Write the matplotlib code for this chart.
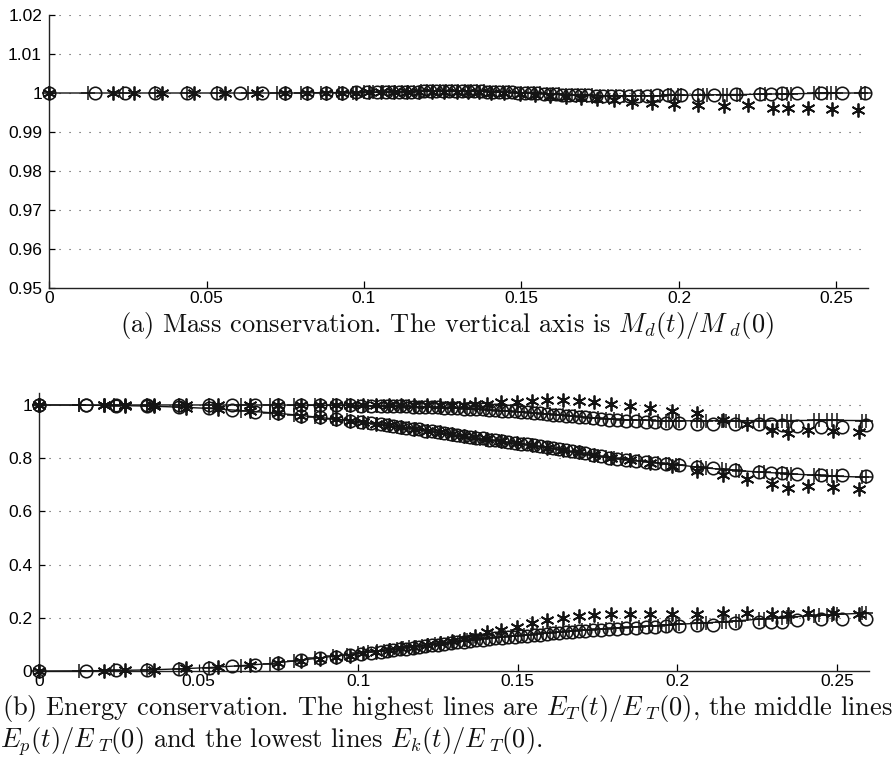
import matplotlib
matplotlib.use("Agg")
import matplotlib.pyplot as plt

plt.rcParams["mathtext.fontset"] = "cm"
plt.rcParams["axes.formatter.use_mathtext"] = False

# ---- series 1: '+' markers joined by a solid line ----
t_plus = [0.0, 0.0124, 0.0235, 0.0337, 0.0438, 0.0533, 0.0632, 0.0724, 0.0800, 0.0865,
          0.0920, 0.0965, 0.1000, 0.1030, 0.1060, 0.1080, 0.1100, 0.1120, 0.1140, 0.1160,
          0.1180, 0.1200, 0.1220, 0.1240, 0.1260, 0.1280, 0.1300, 0.1320, 0.1340, 0.1360,
          0.1380, 0.1400, 0.1420, 0.1440, 0.1460, 0.1480, 0.1500, 0.1520, 0.1540, 0.1560,
          0.1580, 0.1600, 0.1620, 0.1640, 0.1660, 0.1680, 0.1700, 0.1725, 0.1750, 0.1775,
          0.1800, 0.1825, 0.1850, 0.1880, 0.1910, 0.1940, 0.1965, 0.1974, 0.1996, 0.2006,
          0.2060, 0.2075, 0.2090, 0.2140, 0.2153, 0.2184, 0.2193, 0.2256, 0.2272, 0.2328,
          0.2343, 0.2356, 0.2428, 0.2444, 0.2469, 0.2484, 0.2500, 0.2578, 0.2590]
mass_plus = [1.0, 1.0, 1.0, 1.0, 1.0, 1.0, 1.0, 1.0, 1.0, 1.0001,
             1.0001, 1.0001, 1.0002, 1.0002, 1.0002, 1.0003, 1.0003, 1.0003, 1.0003, 1.0003,
             1.0004, 1.0004, 1.0004, 1.0004, 1.0004, 1.0004, 1.0004, 1.0004, 1.0004, 1.0004,
             1.0004, 1.0003, 1.0003, 1.0002, 1.0002, 1.0001, 1.0001, 1.0000, 0.9999, 0.9999,
             0.9998, 0.9997, 0.9997, 0.9996, 0.9995, 0.9995, 0.9994, 0.9994, 0.9993, 0.9993,
             0.9993, 0.9993, 0.9993, 0.9993, 0.9993, 0.9993, 0.9994, 0.9994, 0.9994, 0.9994,
             0.9995, 0.9995, 0.9995, 0.9996, 0.9996, 0.9996, 0.9996, 0.9997, 0.9997, 0.9998,
             0.9998, 0.9998, 0.9999, 0.9999, 0.9999, 0.9999, 1.0, 1.0, 1.0]
et_plus = [1.0, 1.0, 1.0, 1.0, 1.0, 1.0, 1.0, 1.0, 0.9995, 0.999,
           0.9988, 0.9985, 0.998, 0.9975, 0.997, 0.9965, 0.996, 0.9955, 0.995, 0.9945,
           0.994, 0.993, 0.992, 0.991, 0.990, 0.989, 0.988, 0.987, 0.986, 0.985,
           0.9835, 0.982, 0.9805, 0.979, 0.9775, 0.976, 0.9745, 0.973, 0.971, 0.969,
           0.967, 0.965, 0.963, 0.961, 0.959, 0.957, 0.955, 0.9525, 0.950, 0.948,
           0.946, 0.9445, 0.943, 0.9425, 0.942, 0.9415, 0.941, 0.941, 0.9405, 0.9405,
           0.9405, 0.9405, 0.9405, 0.941, 0.941, 0.941, 0.941, 0.9415, 0.9415, 0.9415,
           0.9415, 0.9415, 0.942, 0.942, 0.942, 0.942, 0.942, 0.9415, 0.9415]
ep_plus = [1.0, 0.9995, 0.998, 0.996, 0.992, 0.987, 0.979, 0.971, 0.963, 0.955,
           0.948, 0.942, 0.937, 0.932, 0.927, 0.924, 0.921, 0.918, 0.915, 0.912,
           0.908, 0.905, 0.901, 0.898, 0.894, 0.891, 0.887, 0.884, 0.880, 0.877,
           0.873, 0.870, 0.867, 0.864, 0.861, 0.858, 0.855, 0.852, 0.848, 0.845,
           0.841, 0.838, 0.834, 0.830, 0.826, 0.822, 0.818, 0.813, 0.808, 0.803,
           0.800, 0.796, 0.793, 0.790, 0.786, 0.782, 0.779, 0.778, 0.775, 0.774,
           0.767, 0.765, 0.763, 0.758, 0.757, 0.754, 0.753, 0.748, 0.747, 0.743,
           0.742, 0.741, 0.736, 0.735, 0.734, 0.733, 0.732, 0.729, 0.728]
ek_plus = [0.0, 0.0005, 0.002, 0.004, 0.008, 0.013, 0.020, 0.028, 0.038, 0.047,
           0.055, 0.061, 0.066, 0.070, 0.074, 0.077, 0.080, 0.083, 0.086, 0.089,
           0.092, 0.095, 0.098, 0.101, 0.104, 0.107, 0.110, 0.112, 0.115, 0.118,
           0.120, 0.123, 0.125, 0.127, 0.129, 0.131, 0.133, 0.135, 0.137, 0.139,
           0.141, 0.143, 0.145, 0.147, 0.149, 0.151, 0.153, 0.155, 0.157, 0.159,
           0.161, 0.163, 0.165, 0.167, 0.169, 0.171, 0.173, 0.173, 0.175, 0.176,
           0.179, 0.180, 0.181, 0.185, 0.186, 0.188, 0.189, 0.195, 0.196, 0.201,
           0.202, 0.203, 0.208, 0.209, 0.211, 0.212, 0.213, 0.217, 0.218]

# ---- series 2: 'o' markers ----
t_circ = [0.0, 0.0146, 0.0241, 0.0337, 0.0438, 0.0533, 0.0606, 0.0676, 0.0749, 0.0820,
          0.0880, 0.0930, 0.0975, 0.1010, 0.1040, 0.1070, 0.1090, 0.1110, 0.1130, 0.1150,
          0.1170, 0.1190, 0.1210, 0.1230, 0.1250, 0.1270, 0.1290, 0.1310, 0.1330, 0.1350,
          0.1370, 0.1390, 0.1410, 0.1430, 0.1450, 0.1470, 0.1490, 0.1510, 0.1530, 0.1550,
          0.1570, 0.1590, 0.1610, 0.1630, 0.1650, 0.1670, 0.1690, 0.1710, 0.1735, 0.1760,
          0.1785, 0.1810, 0.1840, 0.1870, 0.1900, 0.1930, 0.1965, 0.2006, 0.2060, 0.2110,
          0.2180, 0.2256, 0.2293, 0.2328, 0.2375, 0.2450, 0.2516, 0.2590]
mass_circ = [1.0, 1.0, 1.0, 1.0, 1.0, 1.0, 1.0, 1.0, 1.0, 1.0001,
             1.0001, 1.0001, 1.0002, 1.0002, 1.0002, 1.0003, 1.0003, 1.0003, 1.0003, 1.0003,
             1.0003, 1.0004, 1.0004, 1.0004, 1.0004, 1.0004, 1.0004, 1.0004, 1.0004, 1.0004,
             1.0004, 1.0003, 1.0003, 1.0003, 1.0002, 1.0002, 1.0001, 1.0000, 0.9999, 0.9999,
             0.9998, 0.9997, 0.9997, 0.9996, 0.9996, 0.9995, 0.9994, 0.9994, 0.9993, 0.9993,
             0.9993, 0.9993, 0.9993, 0.9993, 0.9993, 0.9994, 0.9994, 0.9994, 0.9995, 0.9996,
             0.9997, 0.9998, 0.9998, 0.9999, 0.9999, 1.0, 1.0, 1.0]
et_circ = [1.0, 1.0, 1.0, 1.0, 1.0, 1.0, 1.0, 1.0, 0.9998, 0.9994,
           0.999, 0.9986, 0.9982, 0.9978, 0.9973, 0.9968, 0.9963, 0.9958, 0.9953, 0.9948,
           0.9942, 0.9935, 0.9925, 0.9915, 0.9905, 0.9895, 0.9885, 0.9875, 0.9865, 0.9855,
           0.9843, 0.983, 0.9815, 0.980, 0.9785, 0.977, 0.9755, 0.974, 0.972, 0.970,
           0.968, 0.966, 0.964, 0.962, 0.960, 0.958, 0.956, 0.953, 0.950, 0.947,
           0.945, 0.943, 0.941, 0.939, 0.937, 0.935, 0.933, 0.931, 0.929, 0.928,
           0.928, 0.928, 0.927, 0.926, 0.922, 0.917, 0.919, 0.925]
ep_circ = [1.0, 0.9993, 0.998, 0.996, 0.992, 0.987, 0.981, 0.975, 0.968, 0.960,
           0.953, 0.946, 0.941, 0.936, 0.932, 0.927, 0.924, 0.921, 0.918, 0.915,
           0.911, 0.908, 0.904, 0.901, 0.897, 0.894, 0.890, 0.887, 0.884, 0.880,
           0.877, 0.874, 0.870, 0.867, 0.864, 0.861, 0.858, 0.855, 0.852, 0.848,
           0.845, 0.841, 0.838, 0.834, 0.830, 0.826, 0.822, 0.818, 0.812, 0.807,
           0.802, 0.798, 0.794, 0.790, 0.787, 0.783, 0.779, 0.775, 0.768, 0.762,
           0.755, 0.748, 0.745, 0.743, 0.740, 0.737, 0.735, 0.733]
ek_circ = [0.0, 0.0008, 0.002, 0.004, 0.008, 0.013, 0.018, 0.024, 0.031, 0.040,
           0.048, 0.054, 0.059, 0.064, 0.068, 0.072, 0.075, 0.078, 0.081, 0.084,
           0.087, 0.090, 0.093, 0.096, 0.099, 0.102, 0.105, 0.108, 0.110, 0.113,
           0.116, 0.118, 0.121, 0.123, 0.125, 0.127, 0.129, 0.131, 0.133, 0.135,
           0.137, 0.139, 0.141, 0.143, 0.145, 0.147, 0.149, 0.151, 0.153, 0.155,
           0.157, 0.159, 0.161, 0.163, 0.165, 0.167, 0.169, 0.168, 0.174, 0.174,
           0.181, 0.186, 0.186, 0.186, 0.192, 0.194, 0.194, 0.194]

# ---- series 3: '*' markers ----
t_star = [0.0, 0.0203, 0.0270, 0.0360, 0.0460, 0.0560, 0.0660, 0.0750, 0.0820, 0.0880,
          0.0930, 0.0975, 0.1015, 0.1055, 0.1095, 0.1135, 0.1175, 0.1215, 0.1255, 0.1295,
          0.1330, 0.1365, 0.1402, 0.1446, 0.1496, 0.1543, 0.1590, 0.1640, 0.1690, 0.1740,
          0.1793, 0.1852, 0.1915, 0.1984, 0.2060, 0.2143, 0.2218, 0.2297, 0.2347, 0.2409,
          0.2487, 0.2569]
mass_star = [1.0, 1.0, 1.0, 1.0, 1.0, 1.0, 1.0, 1.0, 1.0, 1.0,
             1.0001, 1.0001, 1.0002, 1.0002, 1.0003, 1.0003, 1.0003, 1.0003, 1.0003, 1.0003,
             1.0002, 1.0002, 1.0001, 1.0, 0.9998, 0.9996, 0.9993, 0.9990, 0.9987, 0.9984,
             0.9981, 0.9978, 0.9974, 0.9972, 0.9968, 0.9966, 0.9968, 0.9962, 0.9962, 0.9961,
             0.9959, 0.9956]
et_star = [1.0, 1.0, 1.0, 1.0, 1.0, 1.0, 1.0, 1.0, 1.0, 0.9998,
           0.9997, 0.9996, 0.9995, 0.9994, 0.9993, 0.9993, 0.9994, 0.9996, 0.9998, 1.0,
           1.001, 1.002, 1.004, 1.010, 1.0125, 1.016, 1.019, 1.019, 1.016, 1.010,
           1.004, 0.995, 0.988, 0.979, 0.970, 0.945, 0.928, 0.907, 0.894, 0.906,
           0.903, 0.897]
ep_star = [1.0, 0.9988, 0.998, 0.995, 0.990, 0.984, 0.976, 0.968, 0.960, 0.953,
           0.946, 0.941, 0.935, 0.929, 0.923, 0.917, 0.911, 0.904, 0.897, 0.890,
           0.884, 0.878, 0.871, 0.864, 0.856, 0.848, 0.840, 0.832, 0.822, 0.812,
           0.801, 0.792, 0.782, 0.771, 0.752, 0.736, 0.721, 0.702, 0.689, 0.696,
           0.693, 0.686]
ek_star = [0.0, 0.0012, 0.002, 0.005, 0.010, 0.016, 0.023, 0.031, 0.039, 0.046,
           0.053, 0.058, 0.066, 0.072, 0.078, 0.085, 0.091, 0.098, 0.105, 0.113,
           0.122, 0.133, 0.145, 0.155, 0.167, 0.180, 0.190, 0.199, 0.205, 0.211,
           0.214, 0.214, 0.214, 0.215, 0.216, 0.217, 0.217, 0.216, 0.216, 0.217,
           0.217, 0.216]

x_ticks = [0, 0.05, 0.1, 0.15, 0.2, 0.25]
x_labels = ["0", "0.05", "0.1", "0.15", "0.2", "0.25"]
mass_ticks = [0.95, 0.96, 0.97, 0.98, 0.99, 1.0, 1.01, 1.02]
mass_labels = ["0.95", "0.96", "0.97", "0.98", "0.99", "1", "1.01", "1.02"]
energy_ticks = [0, 0.2, 0.4, 0.6, 0.8, 1.0]
energy_labels = ["0", "0.2", "0.4", "0.6", "0.8", "1"]

INK = "#141414"
STAR = (6, 2, 0)   # six-armed asterisk
TICKFONT = dict(family="Liberation Sans", size=12.5)


def plot_series(ax, t, y, kind):
    if kind == "plus":
        ax.plot(t, y, "-", color=INK, lw=1.0, marker="+", ms=9.5, mew=1.1,
                clip_on=False, zorder=4)
    elif kind == "circ":
        ax.plot(t, y, ls="none", marker="o", ms=9, mfc="none", mec=INK,
                mew=1.15, clip_on=False, zorder=3)
    else:
        ax.plot(t, y, ls="none", marker=STAR, ms=10, mec=INK, mew=1.3,
                clip_on=False, zorder=3)


def style(ax, yticks, ylabels, ylim):
    ax.set_xlim(0, 0.26)
    ax.set_ylim(*ylim)
    ax.set_xticks(x_ticks)
    ax.set_xticklabels(x_labels, **TICKFONT)
    ax.set_yticks(yticks)
    ax.set_yticklabels(ylabels, **TICKFONT)
    for side in ("top", "right"):
        ax.spines[side].set_visible(False)
    for side in ("left", "bottom"):
        ax.spines[side].set_linewidth(1.0)
        ax.spines[side].set_color("#222222")
    ax.tick_params(axis="x", direction="in", length=5, width=0.9, pad=2)
    ax.tick_params(axis="y", direction="in", length=4, width=0.9, pad=5)
    for yv in yticks[1:]:
        ax.axhline(yv, color="#444444", lw=0.8, ls=(0, (1, 8)), zorder=1)


fig = plt.figure(figsize=(8.93, 7.73), dpi=100)

# (a) mass
ax1 = fig.add_axes([49 / 893, 1 - 288 / 773, (868 - 49) / 893, (288 - 15) / 773])
plot_series(ax1, t_plus, mass_plus, "plus")
plot_series(ax1, t_circ, mass_circ, "circ")
plot_series(ax1, t_star, mass_star, "star")
style(ax1, mass_ticks, mass_labels, (0.95, 1.02))

# (b) energies
ax2 = fig.add_axes([39 / 893, 1 - 671 / 773, (869 - 39) / 893, (671 - 393) / 773])
for t, yt, yp, yk, kind in [(t_plus, et_plus, ep_plus, ek_plus, "plus"),
                            (t_circ, et_circ, ep_circ, ek_circ, "circ"),
                            (t_star, et_star, ep_star, ek_star, "star")]:
    plot_series(ax2, t, yt, kind)
    plot_series(ax2, t, yp, kind)
    plot_series(ax2, t, yk, kind)
style(ax2, energy_ticks, energy_labels, (0, 1.045))

CAP = dict(family="cmr10", size=19, color="#111111")
fig.text(0.5, 1 - 325 / 773,
         r"(a) Mass conservation. The vertical axis is $M_d(t)/M\,_d(0)$",
         ha="center", va="center", **CAP)
fig.text(0.002, 1 - 709 / 773,
         r"(b) Energy conservation. The highest lines are $E_T(t)/E\,_T(0)$, the middle lines",
         ha="left", va="center", **CAP)
fig.text(0.0, 1 - 742 / 773,
         r"$E_p(t)/E\,_T(0)$ and the lowest lines $E_k(t)/E\,_T(0)$.",
         ha="left", va="center", **CAP)

fig.savefig("out.png", dpi=100)
